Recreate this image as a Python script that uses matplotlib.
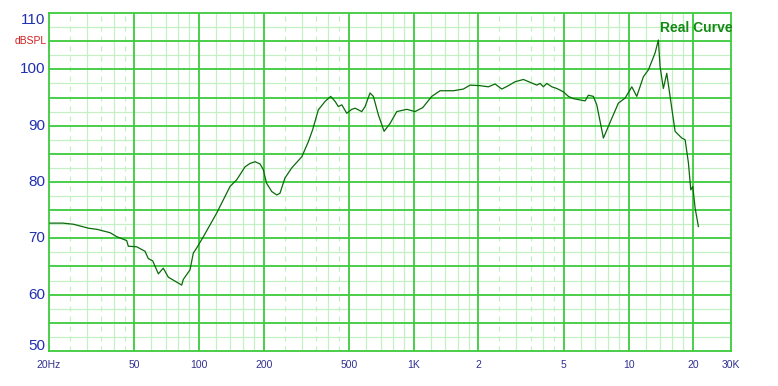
import numpy as np
import matplotlib
matplotlib.use('Agg')
import matplotlib.pyplot as plt
import matplotlib.transforms as mtransforms

plt.rcParams['font.family'] = ['Liberation Sans', 'DejaVu Sans']

# frequency response (Hz, dB SPL)
FREQ = [20.2, 23.2, 26.0, 30.5, 33.4, 38.5, 41.3, 46.0, 46.8, 51.2,
        56.0, 58.0, 60.8, 64.6, 68.1, 71.9, 83.0, 84.4, 90.7, 94.0,
        97.5, 104.7, 120.8, 139.3, 149.7, 163.7, 172.7, 182.2, 192.2, 199,
        206, 218, 230, 238, 251, 270, 301, 323, 338, 359,
        386, 410, 430, 445, 462, 487, 514, 533, 572, 593,
        625, 648, 684, 727, 775, 833, 927, 1013, 1100, 1212,
        1325, 1528, 1701, 1828, 2035, 2224, 2390, 2568, 2756, 2962,
        3238, 3479, 3737, 3872, 4012, 4162, 4391, 4632, 4973, 5246,
        5534, 6275, 6500, 6857, 7112, 7636, 8355, 8966, 9636, 10352,
        10922, 11726, 12372, 13288, 13768, 14020, 14526, 15064, 15608, 16468,
        17062, 17700, 18340, 19000, 19490, 19914, 20410, 21146]
SPL = [72.7, 72.7, 72.5, 71.8, 71.6, 71.0, 70.3, 69.6, 68.6, 68.5,
       67.7, 66.4, 66.0, 63.7, 64.7, 63.1, 61.7, 62.7, 64.4, 67.4,
       68.3, 70.3, 74.5, 79.2, 80.4, 82.7, 83.3, 83.6, 83.2, 82.2,
       79.8, 78.3, 77.7, 78.0, 80.7, 82.5, 84.5, 87.2, 89.3, 92.8,
       94.3, 95.2, 94.3, 93.4, 93.7, 92.2, 92.9, 93.1, 92.5, 93.4,
       95.8, 95.2, 91.9, 89.0, 90.4, 92.5, 92.9, 92.5, 93.2, 95.2,
       96.2, 96.2, 96.5, 97.2, 97.1, 96.9, 97.4, 96.5, 97.1, 97.8,
       98.2, 97.7, 97.2, 97.5, 96.9, 97.5, 96.9, 96.6, 96.0, 95.2,
       94.8, 94.4, 95.4, 95.2, 93.7, 87.8, 91.3, 94.0, 94.9, 96.9,
       95.2, 98.7, 99.9, 102.9, 105.2, 100.5, 96.6, 99.3, 95.2, 89.0,
       88.4, 87.8, 87.5, 83.4, 78.6, 79.2, 75.4, 72.1]

X_TICKS  = [20, 50, 100, 200, 500, 1000, 2000, 5000, 10000, 20000, 30000]
X_LABELS = ['20Hz', '50', '100', '200', '500', '1K', '2', '5', '10', '20', '30K']
Y_TICKS  = [110, 100, 90, 80, 70, 60, 50]

MAJOR_X  = [50, 100, 200, 500, 1000, 2000, 5000, 10000, 20000]
MINOR_X  = [30, 40, 60, 70, 80, 90, 120, 140, 160, 180,
            300, 400, 600, 700, 800, 900, 1200, 1400, 1600, 1800,
            3000, 4000, 6000, 7000, 8000, 9000, 12000, 14000, 16000, 18000]
DASHED_X = [25, 35, 45, 250, 350, 450, 2500, 3500, 4500]

MAJOR_C = '#3ccc3c'
MINOR_C = '#c4f0c4'

fig = plt.figure(figsize=(7.78, 3.86), dpi=100)
ax = fig.add_axes([0.063, 0.0907, 0.8766, 0.8756])
ax.set_xscale('log')
ax.set_xlim(20, 30000)
ax.set_ylim(50, 110)

for y in np.arange(52.5, 110, 5):
    ax.axhline(y, color=MINOR_C, lw=0.9, zorder=1)
for y in range(55, 110, 5):
    ax.axhline(y, color=MAJOR_C, lw=1.3, zorder=2)
for x in MINOR_X:
    ax.axvline(x, color=MINOR_C, lw=0.9, zorder=1)
for x in DASHED_X:
    ax.axvline(x, color=MINOR_C, lw=0.9, ls=(0, (4, 4)), zorder=1)
for x in MAJOR_X:
    ax.axvline(x, color=MAJOR_C, lw=1.3, zorder=2)

ax.plot(FREQ, SPL, color='#0a6a0a', lw=0.9, zorder=3)

for s in ax.spines.values():
    s.set_color(MAJOR_C)
    s.set_linewidth(1.3)
ax.set_xticks([])
ax.set_yticks([])
ax.minorticks_off()

ty = mtransforms.blended_transform_factory(ax.transAxes, ax.transData)
for v in Y_TICKS:
    pos = v
    if v == 110:
        pos = 108.7
    elif v == 50:
        pos = 50.9
    ax.text(-0.006, pos, str(v), transform=ty, ha='right', va='center',
            fontsize=11, color='#2030b0')
ax.text(-0.004, 105, 'dBSPL', transform=ty, ha='right', va='center',
        fontsize=7.5, color='#d02020')

tx = mtransforms.blended_transform_factory(ax.transData, ax.transAxes)
for v, lab in zip(X_TICKS, X_LABELS):
    ax.text(v, -0.027, lab, transform=tx, ha='center', va='top',
            fontsize=7.5, color='#303090')

ax.text(1.003, 0.975, 'Real Curve', transform=ax.transAxes, ha='right', va='top',
        fontsize=10, fontweight='bold', color='#138a13')

fig.savefig('out.png', dpi=100)
